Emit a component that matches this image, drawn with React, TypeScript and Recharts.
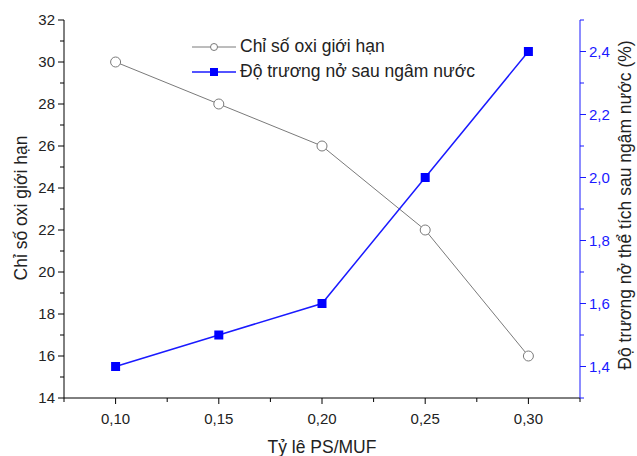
import React from 'react';
import { LineChart, Line, XAxis, YAxis, Legend } from 'recharts';

const ratios = [0.1, 0.15, 0.2, 0.25, 0.3];
const oxygenIndex = [30, 28, 26, 22, 16];
const swelling = [1.4, 1.5, 1.6, 2.0, 2.4];

const xTicks = [0.075, 0.1, 0.125, 0.15, 0.175, 0.2, 0.225, 0.25, 0.275, 0.3, 0.325];
const leftTicks = [14, 15, 16, 17, 18, 19, 20, 21, 22, 23, 24, 25, 26, 27, 28, 29, 30, 31, 32];
const rightTicks = [1.3, 1.4, 1.5, 1.6, 1.7, 1.8, 1.9, 2.0, 2.1, 2.2, 2.3, 2.4, 2.5];

const data = ratios.map((x, i) => ({ x, loi: oxygenIndex[i], swell: swelling[i] }));

const BLUE = '#1a1aff';
const GRAY = '#7a7a7a';

const isMajorX = (v: number) => {
  const k = Math.round(v * 1000);
  return k % 50 === 0 && k >= 100 && k <= 300;
};

const BottomTick = (props: any) => {
  const { x, y, payload } = props;
  const major = isMajorX(payload.value);
  return (
    <g>
      <line x1={x} x2={x} y1={y} y2={y + (major ? 6 : 4)} stroke="#000" />
      {major && (
        <text x={x} y={y + 26} textAnchor="middle" fontSize={15} fill="#222">
          {payload.value.toFixed(2).replace('.', ',')}
        </text>
      )}
    </g>
  );
};

const TopTick = (props: any) => {
  const { x, y, payload } = props;
  const major = isMajorX(payload.value);
  return <line x1={x} x2={x} y1={y} y2={y + (major ? 6 : 4)} stroke="#000" />;
};

const LeftTick = (props: any) => {
  const { x, y, payload } = props;
  const major = payload.value % 2 === 0;
  return (
    <g>
      <line x1={x} x2={x - (major ? 6 : 4)} y1={y} y2={y} stroke="#000" />
      {major && (
        <text x={x - 9} y={y + 5} textAnchor="end" fontSize={15} fill="#222">
          {payload.value}
        </text>
      )}
    </g>
  );
};

const RightTick = (props: any) => {
  const { x, y, payload } = props;
  const major = Math.round(payload.value * 10) % 2 === 0;
  return (
    <g>
      <line x1={x} x2={x + (major ? 6 : 4)} y1={y} y2={y} stroke={BLUE} />
      {major && (
        <text x={x + 9} y={y + 5} textAnchor="start" fontSize={15} fill={BLUE}>
          {payload.value.toFixed(1).replace('.', ',')}
        </text>
      )}
    </g>
  );
};

const XTitle = () => (
  <text x={322} y={453} textAnchor="middle" fontSize={17.5} fill="#222">
    Tỷ lê PS/MUF
  </text>
);

const LeftTitle = () => (
  <text x={21} y={208} transform="rotate(-90 21 208)" dy={6} textAnchor="middle" fontSize={17.5} fill="#222">
    Chỉ số oxi giới hạn
  </text>
);

const RightTitle = () => (
  <text x={625} y={205} transform="rotate(-90 625 205)" dy={6} textAnchor="middle" fontSize={17.5} fill="#222">
    Độ trương nở thể tích sau ngâm nước (%)
  </text>
);

const Square = (props: any) => {
  const { cx, cy, index } = props;
  return <rect key={'sq' + index} x={cx - 4.5} y={cy - 4.5} width={9} height={9} fill="#0000ff" />;
};

const renderLegend = (props: any) => {
  const { payload } = props;
  return (
    <div style={{ fontSize: 17.5, color: '#222' }}>
      {payload.map((entry: any) => (
        <div key={entry.value} style={{ display: 'flex', alignItems: 'center', height: 25 }}>
          <svg width={46} height={14}>
            <line x1={1} x2={45} y1={7} y2={7} stroke={entry.color} strokeWidth={entry.dataKey === 'swell' ? 1.5 : 1} />
            {entry.dataKey === 'swell' ? (
              <rect x={19} y={3} width={8} height={8} fill="#0000ff" />
            ) : (
              <circle cx={23} cy={7} r={3.5} fill="#fff" stroke={GRAY} />
            )}
          </svg>
          <span style={{ marginLeft: 3, whiteSpace: 'nowrap' }}>{entry.value}</span>
        </div>
      ))}
    </div>
  );
};

export default function App() {
  return (
    <div style={{ position: 'absolute', left: 0, top: 0, fontFamily: '"Liberation Sans", Arial, sans-serif' }}>
      <LineChart width={637} height={456} data={data} margin={{ top: 20, right: 0, bottom: 0, left: 0 }}>
        <XAxis
          xAxisId="bottom"
          dataKey="x"
          type="number"
          domain={[0.075, 0.325]}
          ticks={xTicks}
          interval={0}
          height={58}
          tickSize={0}
          tickMargin={0}
          tickLine={false}
          axisLine={{ stroke: '#000' }}
          tick={<BottomTick />}
          label={<XTitle />}
        />
        <XAxis
          xAxisId="top"
          orientation="top"
          dataKey="x"
          type="number"
          domain={[0.075, 0.325]}
          ticks={xTicks}
          interval={0}
          height={0}
          tickSize={0}
          tickMargin={0}
          tickLine={false}
          axisLine={{ stroke: '#000' }}
          tick={<TopTick />}
        />
        <YAxis
          yAxisId="left"
          type="number"
          domain={[14, 32]}
          ticks={leftTicks}
          interval={0}
          width={64}
          tickSize={0}
          tickMargin={0}
          tickLine={false}
          axisLine={{ stroke: '#000' }}
          tick={<LeftTick />}
          label={<LeftTitle />}
        />
        <YAxis
          yAxisId="right"
          orientation="right"
          type="number"
          domain={[1.3, 2.5]}
          ticks={rightTicks}
          interval={0}
          width={57}
          tickSize={0}
          tickMargin={0}
          tickLine={false}
          axisLine={{ stroke: BLUE }}
          tick={<RightTick />}
          label={<RightTitle />}
        />
        <Legend
          layout="horizontal"
          verticalAlign="middle"
          align="center"
          content={renderLegend}
          wrapperStyle={{ top: 34, left: 191, width: 'auto' }}
        />
        <Line
          xAxisId="bottom"
          yAxisId="left"
          dataKey="loi"
          name="Chỉ số oxi giới hạn"
          stroke={GRAY}
          strokeWidth={1}
          dot={{ r: 5, fill: '#fff', stroke: GRAY, strokeWidth: 1 }}
          isAnimationActive={false}
        />
        <Line
          xAxisId="bottom"
          yAxisId="right"
          dataKey="swell"
          name="Độ trương nở sau ngâm nước"
          stroke={BLUE}
          strokeWidth={1.5}
          dot={<Square />}
          isAnimationActive={false}
        />
      </LineChart>
    </div>
  );
}
